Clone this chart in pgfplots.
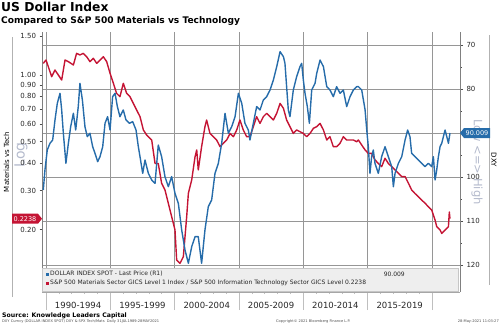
\documentclass[border=0pt]{standalone}
\usepackage{fontspec}
\setmainfont{DejaVu Sans}
\usepackage{pgfplots}
\usepackage{pgfplotstable}
\pgfplotsset{compat=1.18}
\definecolor{dxyblue}{RGB}{38,108,170}
\definecolor{ratiored}{RGB}{196,20,52}
\definecolor{gridgrey}{RGB}{150,150,150}
\definecolor{wm}{RGB}{180,186,204}

\pgfplotstableread{
year val
1989.79 1.129
1990.00 1.169
1990.18 1.091
1990.44 0.983
1990.70 1.053
1990.96 1.000
1991.22 0.949
1991.48 1.169
1991.74 1.149
1992.13 1.110
1992.38 1.253
1992.64 1.232
1992.90 1.253
1993.16 1.210
1993.42 1.149
1993.68 1.190
1993.94 1.129
1994.20 1.169
1994.46 1.210
1994.72 1.149
1994.98 1.018
1995.24 0.917
1995.49 0.826
1995.75 0.798
1996.01 0.917
1996.27 0.826
1996.53 0.798
1996.79 0.744
1997.05 0.694
1997.31 0.648
1997.57 0.564
1997.83 0.535
1997.96 0.526
1998.22 0.508
1998.48 0.398
1998.73 0.398
1998.99 0.324
1999.25 0.302
1999.51 0.263
1999.77 0.229
2000.03 0.199
2000.16 0.1455
2000.42 0.1406
2000.68 0.1507
2000.94 0.229
2001.07 0.2915
2001.33 0.335
2001.59 0.427
2001.72 0.458
2001.84 0.372
2002.10 0.474
2002.36 0.584
2002.49 0.626
2002.75 0.544
2003.01 0.526
2003.27 0.508
2003.53 0.474
2003.79 0.491
2004.05 0.508
2004.31 0.544
2004.57 0.526
2004.83 0.564
2005.08 0.626
2005.34 0.564
2005.60 0.526
2005.86 0.526
2006.12 0.584
2006.38 0.648
2006.64 0.604
2006.90 0.648
2007.16 0.671
2007.42 0.648
2007.68 0.626
2007.94 0.671
2008.20 0.744
2008.46 0.707
2008.71 0.626
2008.97 0.584
2009.23 0.544
2009.49 0.564
2009.75 0.554
2010.01 0.544
2010.27 0.526
2010.53 0.544
2010.79 0.574
2011.05 0.584
2011.31 0.604
2011.57 0.564
2011.83 0.508
2012.08 0.526
2012.34 0.474
2012.60 0.474
2012.86 0.491
2013.12 0.526
2013.38 0.508
2013.64 0.508
2013.90 0.508
2014.16 0.499
2014.29 0.508
2014.55 0.482
2014.81 0.458
2015.06 0.442
2015.32 0.442
2015.58 0.413
2015.84 0.398
2016.10 0.385
2016.36 0.420
2016.62 0.398
2016.88 0.385
2017.14 0.372
2017.40 0.359
2017.66 0.347
2017.92 0.347
2018.18 0.324
2018.43 0.302
2018.69 0.291
2018.95 0.2816
2019.21 0.272
2019.47 0.263
2019.73 0.2537
2019.99 0.245
2020.25 0.2208
2020.38 0.206
2020.64 0.199
2020.77 0.192
2021.03 0.199
2021.29 0.206
2021.36 0.240
2021.41 0.2238
}\redtab

\pgfplotstableread{
year val
1989.79 102.95
1989.92 98.41
1990.10 93.86
1990.31 92.35
1990.52 91.59
1990.70 87.04
1990.88 83.26
1991.09 80.98
1991.22 84.77
1991.35 90.07
1991.55 96.89
1991.74 92.35
1991.92 88.56
1992.13 85.53
1992.31 89.32
1992.51 84.01
1992.64 78.71
1992.83 82.50
1993.03 88.56
1993.21 90.83
1993.42 90.07
1993.63 93.11
1993.81 94.62
1994.02 96.51
1994.20 95.38
1994.41 93.11
1994.59 87.80
1994.79 86.29
1994.98 89.32
1995.18 81.74
1995.37 80.98
1995.55 84.01
1995.75 86.29
1996.01 84.77
1996.22 87.04
1996.48 87.80
1996.74 87.42
1997.00 89.32
1997.18 93.11
1997.31 95.38
1997.52 99.17
1997.70 96.14
1997.96 99.17
1998.22 100.68
1998.48 101.44
1998.73 92.73
1998.99 95.38
1999.25 99.92
1999.51 102.20
1999.77 99.92
2000.03 103.71
2000.29 105.98
2000.55 112.04
2000.81 116.59
2001.07 119.62
2001.33 115.83
2001.59 113.56
2001.84 113.56
2002.10 119.62
2002.36 112.04
2002.62 106.74
2002.88 105.23
2003.14 99.17
2003.40 96.89
2003.66 92.35
2003.92 85.53
2004.18 90.07
2004.44 88.56
2004.70 86.29
2004.96 80.98
2005.22 83.26
2005.47 87.80
2005.73 89.32
2005.86 91.59
2006.12 87.80
2006.38 84.01
2006.64 84.77
2006.90 82.50
2007.16 81.74
2007.42 80.23
2007.68 77.95
2007.94 74.92
2008.20 71.51
2008.46 72.65
2008.58 74.17
2008.71 79.47
2008.84 84.77
2008.97 86.29
2009.10 83.26
2009.23 80.23
2009.49 77.20
2009.75 74.92
2009.88 74.17
2010.01 77.95
2010.14 80.98
2010.32 84.01
2010.48 87.80
2010.66 80.23
2010.92 78.71
2011.05 76.44
2011.31 73.41
2011.57 74.92
2011.83 79.47
2012.08 80.23
2012.34 81.74
2012.60 79.47
2012.86 80.98
2013.12 80.23
2013.38 84.01
2013.64 81.74
2013.90 80.23
2014.16 79.47
2014.29 79.47
2014.55 80.23
2014.81 84.77
2014.94 89.32
2015.06 93.11
2015.19 99.17
2015.32 95.38
2015.45 93.86
2015.58 96.89
2015.84 99.17
2016.10 95.38
2016.36 93.11
2016.62 95.38
2016.88 97.65
2017.01 102.20
2017.14 99.17
2017.40 96.89
2017.66 95.38
2017.92 91.59
2018.12 89.32
2018.30 90.83
2018.43 94.62
2018.69 95.38
2018.95 96.14
2019.21 96.89
2019.47 97.65
2019.73 96.89
2019.99 97.65
2020.12 95.38
2020.25 100.68
2020.38 98.41
2020.51 95.38
2020.64 93.11
2020.77 92.35
2021.03 89.32
2021.16 90.83
2021.29 92.35
2021.41 90.009
}\bluetab

\pgfplotsset{
  base/.style={scale only axis, width=418pt, height=260pt,
    at={(42pt,33pt)}, anchor=south west,
    xmin=1989.69, xmax=2022.19,
    /pgf/number format/assume math mode=true,
    tick label style={font=\fontsize{7}{8}\selectfont, text=black!85}},
}

\begin{document}
\begin{tikzpicture}[x=1pt,y=1pt]
\useasboundingbox (0,0) rectangle (500,325);

% titles
\node[anchor=north west, inner sep=0pt, font=\bfseries\fontsize{12.3}{14}\selectfont] at (1,323) {US Dollar Index};
\node[anchor=north west, inner sep=0pt, font=\bfseries\fontsize{9.1}{10}\selectfont] at (1,308.5) {Compared to S\&P 500 Materials vs Technology};

% frame side lines
\draw[gray!60, line width=0.5pt] (12,28) -- (12,288);
\draw[gray!60, line width=0.5pt] (489,40) -- (489,290);

% watermark texts
\node[rotate=90, text=wm, font=\fontsize{14}{16}\selectfont] at (21,170) {Log};
\node[rotate=-90, text=wm, font=\fontsize{11.5}{13}\selectfont] at (477,163) {Low <=> High};
\node[rotate=90, font=\fontsize{7}{8}\selectfont] at (6.5,163) {Materials vs Tech};
\node[rotate=-90, font=\fontsize{7}{8}\selectfont] at (494,165) {DXY};

% grid axis
\begin{axis}[base, y dir=reverse, ymin=67.05, ymax=126.14,
  axis x line*=bottom, axis y line*=left,
  y axis line style={draw=none}, x axis line style={draw=gray!70, -},
  xtick={1990,1995,...,2020}, xticklabels={},
  ytick={70,80,...,120}, yticklabels={}, ytick style={draw=none},
  grid=major, major grid style={draw=gridgrey, line width=0.5pt},
  xtick style={draw=gray!50, line width=0.5pt},
  tick align=outside, major tick length=18pt,
  minor x tick num=4, minor tick length=2pt,
  extra x ticks={1992.5,1997.5,2002.5,2007.5,2012.5,2017.5},
  extra x tick labels={1990-1994,1995-1999,2000-2004,2005-2009,2010-2014,2015-2019},
  extra x tick style={grid=none, major tick length=0pt,
    tick label style={font=\fontsize{8.5}{9}\selectfont, yshift=-7pt}},
]
\end{axis}

% left axis: ratio (log)
\begin{axis}[base, ymode=log, ymin=0.1043, ymax=1.565,
  axis x line=none, axis y line*=left,
  y axis line style={draw=gray, -},
  ytick={0.2,0.3,0.4,0.5,0.6,0.7,0.8,0.9,1.0,1.5}, minor ytick={},
  yticklabels={0.20,0.30,0.40,0.50,0.60,0.70,0.80,0.90,1.00,1.50},
  tick align=outside, major tick length=2.5pt,
  ytick style={draw=black!70, line width=0.6pt},
]
\addplot[ratiored, line width=1.4pt, line join=round] table[x=year, y=val] {\redtab};
\coordinate (rt) at (axis cs:1989.69,0.2238);
\end{axis}

% right axis: DXY (reversed)
\begin{axis}[base, y dir=reverse, ymin=67.05, ymax=126.14,
  axis x line=none, axis y line*=right,
  y axis line style={draw=gray, -},
  ytick={70,80,...,120}, yticklabels={70,80,,100,110,120}, minor y tick num=1,
  tick align=outside, major tick length=3pt, minor tick length=1.5pt,
  ytick style={draw=black!70, line width=0.6pt},
]
\addplot[dxyblue, line width=1.4pt, line join=round] table[x=year, y=val] {\bluetab};
\coordinate (bt) at (axis cs:2022.19,90.009);
\end{axis}

% legend box
\fill[gray!13] (42,34) rectangle (458,57);
\draw[gray!45, line width=0.4pt] (42,34) rectangle (458,57);
\fill[dxyblue] (46,49) rectangle (49,52.5);
\fill[ratiored] (46,39.8) rectangle (49,43.3);
\node[anchor=west, inner sep=0pt, font=\fontsize{6}{7}\selectfont, text=black!85] at (50,51) {DOLLAR INDEX SPOT - Last Price (R1)};
\node[anchor=east, inner sep=0pt, font=\fontsize{6}{7}\selectfont, text=black!85] at (405,51) {90.009};
\node[anchor=west, inner sep=0pt, font=\fontsize{6}{7}\selectfont, text=black!85] at (50,41.7) {S\&P 500 Materials Sector GICS Level 1 Index / S\&P 500 Information Technology Sector GICS Level 0.2238};

% value tags
\fill[ratiored] (rt) -- ++(-4,5) -- ++(-26,0) -- ++(0,-10) -- ++(26,0) -- cycle;
\node[text=white, inner sep=0pt, font=\fontsize{6.5}{7}\selectfont] at ([xshift=-17pt]rt) {0.2238};
\fill[dxyblue] (bt) -- ++(4,5) -- ++(26,0) -- ++(0,-10) -- ++(-26,0) -- cycle;
\node[text=white, inner sep=0pt, font=\fontsize{6.5}{7}\selectfont] at ([xshift=17pt]bt) {90.009};

% footer
\node[anchor=base west, inner sep=0pt, font=\bfseries\fontsize{6.2}{7}\selectfont] at (2,7.5) {Source: Knowledge Leaders Capital};
\node[anchor=west, inner sep=0pt, font=\fontsize{3.6}{4}\selectfont, text=black!70] at (2,3) {DXY Curncy (DOLLAR INDEX SPOT) DXY \& SPX Tech/Mats \ Daily 31JUL1989-28MAY2021};
\node[anchor=west, inner sep=0pt, font=\fontsize{3.6}{4}\selectfont, text=black!70] at (276,3) {Copyright\textcopyright{} 2021 Bloomberg Finance L.P.};
\node[anchor=east, inner sep=0pt, font=\fontsize{3.6}{4}\selectfont, text=black!70] at (499,3) {28-May-2021 11:03:27};
\end{tikzpicture}
\end{document}
